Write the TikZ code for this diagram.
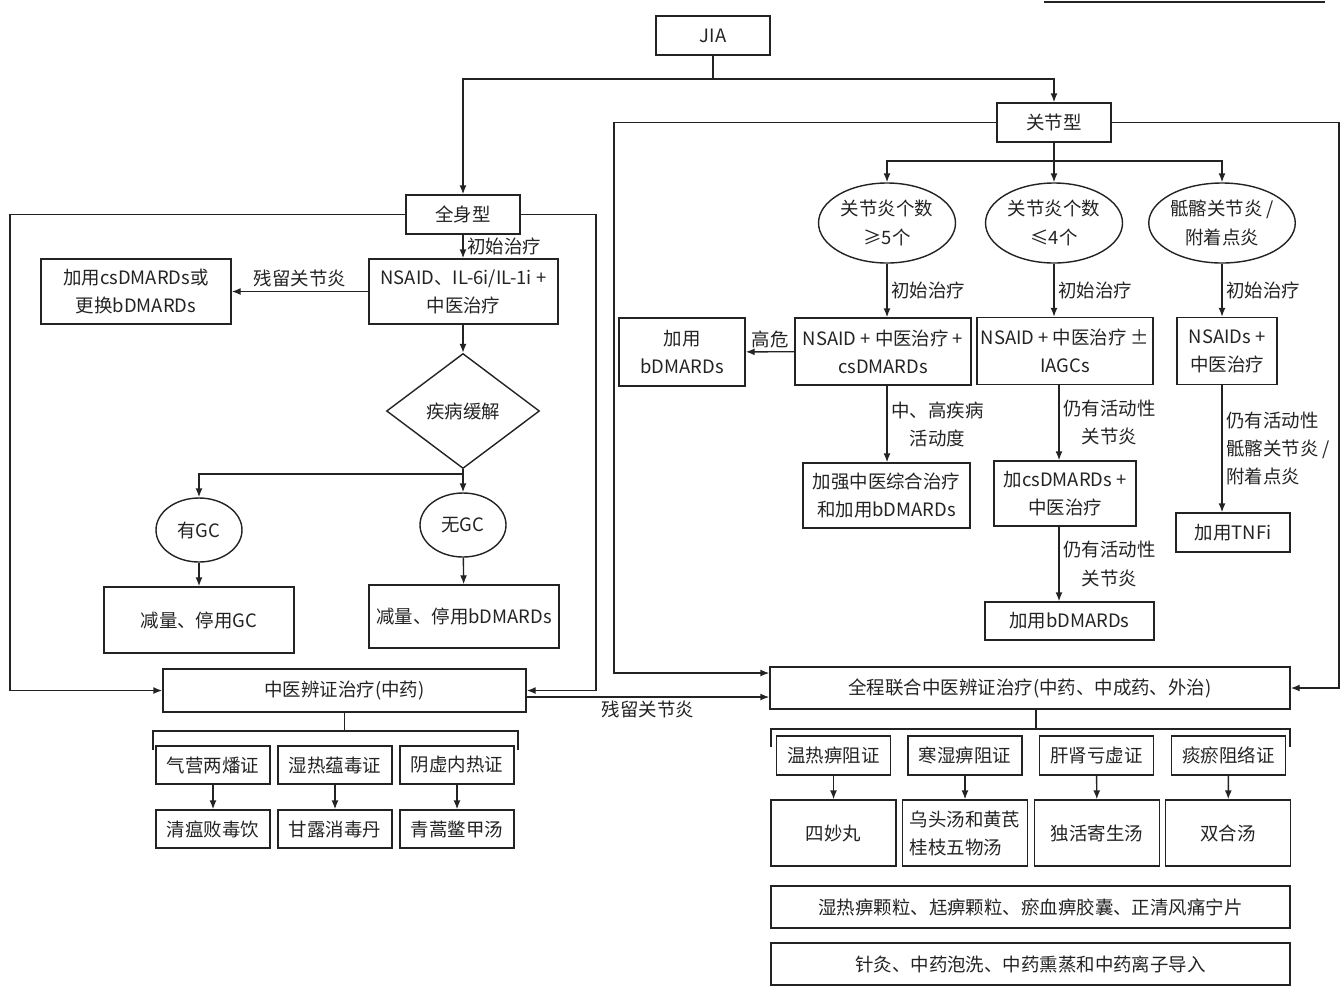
\documentclass[tikz,border=0pt]{standalone}
\usepackage{fontspec}
\setmainfont{Noto Sans CJK SC}
\usepackage{tikz}
\usetikzlibrary{arrows.meta,positioning,calc,shapes.geometric}
\definecolor{encre}{RGB}{35,35,35}
\tikzset{
  taille/.style 2 args={minimum width=#1*0.02cm, minimum height=#2*0.02cm},
  bloc/.style={rectangle, draw=encre, line width=0.8pt, align=center, inner sep=1pt,
               text=encre, font=\fontsize{10.5}{16}\selectfont},
  ovale/.style={ellipse, draw=encre, line width=0.8pt, align=center, inner sep=0pt,
                text=encre, font=\fontsize{10.5}{16}\selectfont},
  losange/.style={diamond, draw=encre, line width=0.8pt, inner sep=0pt,
                  text=encre, font=\fontsize{10.5}{16}\selectfont},
  arr/.style={-{Latex[length=1.8mm,width=1.4mm]}, line width=0.8pt, draw=encre},
  fil/.style={line width=0.8pt, draw=encre},
  etiq/.style={align=center, inner sep=2pt, text=encre, font=\fontsize{10.5}{16}\selectfont},
}

\begin{document}
\begin{tikzpicture}[x=0.02cm, y=-0.02cm]
  \useasboundingbox (0,0) rectangle (1344,991);
  \draw[fil] (1044,2) -- (1325,2);
  % tronc commun
  \node[bloc, taille={114}{39}] (jia) at (713,35.5) {JIA};
  \node[bloc, taille={114}{39}] (gxx) at (1054,122.5) {关节型};
  \node[bloc, taille={114}{39}] (qsx) at (463,214.5) {全身型};
  \coordinate (s0) at (713,79);
  \draw[fil] (jia) -- (s0);
  \draw[arr] (s0) -| (qsx); \draw[arr] (s0) -| (gxx);

  % branche articulaire
  \node[ovale, taille={137}{80}] (e1) at (887,223) {关节炎个数\\≥5个};
  \node[ovale, taille={137}{80}] (e2) at (1054,223) {关节炎个数\\≤4个};
  \node[ovale, taille={137}{80}] (e3) at (1222,223) {骶髂关节炎 /\\附着点炎};
  \coordinate (s1) at (1054,161);
  \draw[fil] (gxx) -- (s1);
  \draw[arr] (s1) -| (e1); \draw[arr] (s1) -- (e2); \draw[arr] (s1) -| (e3);

  \node[bloc, taille={176}{67}] (b1) at (883,351.5) {NSAID + 中医治疗 +\\csDMARDs};
  \node[bloc, taille={176}{67}] (b2) at (1065,351) {NSAID + 中医治疗 ±\\IAGCs};
  \node[bloc, taille={100}{67}] (b3) at (1227,351) {NSAIDs +\\中医治疗};
  \node[bloc, taille={126}{68}] (b0) at (682,352) {加用\\bDMARDs};
  \draw[arr] (e1) -- node[etiq, right]{初始治疗} (e1 |- b1.north);
  \draw[arr] (e2) -- node[etiq, right]{初始治疗} (e2 |- b2.north);
  \draw[arr] (e3) -- node[etiq, right]{初始治疗} (e3 |- b3.north);
  \draw[arr] (b1) -- node[etiq, above]{高危} (b0);

  \coordinate (v2) at (1059,0);
  \node[bloc, taille={167}{65}] (c1) at (886.5,495.5) {加强中医综合治疗\\和加用bDMARDs};
  \node[bloc, taille={142}{65}] (c2) at (1065,493.5) {加csDMARDs +\\中医治疗};
  \node[bloc, taille={169}{38}] (d2) at (1069.5,621) {加用bDMARDs};
  \node[bloc, taille={114}{39}] (c3) at (1233,532.5) {加用TNFi};
  \draw[arr] (e1 |- b1.south) -- node[etiq, right]{中、高疾病\\活动度} (e1 |- c1.north);
  \draw[arr] (v2 |- b2.south) -- node[etiq, right]{仍有活动性\\关节炎} (v2 |- c2.north);
  \draw[arr] (v2 |- c2.south) -- node[etiq, right]{仍有活动性\\关节炎} (v2 |- d2.north);
  \draw[arr] (e3 |- b3.south) -- node[etiq, right, align=left]{仍有活动性\\骶髂关节炎 /\\附着点炎} (e3 |- c3.north);

  % branche systemique
  \node[bloc, taille={189}{65}] (n1) at (463.5,291.5) {NSAID、IL-6i/IL-1i +\\中医治疗};
  \node[bloc, taille={190}{65}] (n0) at (136,291.5) {加用csDMARDs或\\更换bDMARDs};
  \draw[arr] (qsx) -- node[etiq, right]{初始治疗} (qsx |- n1.north);
  \draw[arr] (n1) -- node[etiq, above]{残留关节炎} (n0);
  \node[losange, taille={153}{115}] (dz) at (463,411) {疾病缓解};
  \draw[arr] (qsx |- n1.south) -- (dz);
  \coordinate (s2) at (463,474);
  \draw[fil] (dz) -- (s2);
  \node[ovale, taille={86}{64}] (yg) at (199,530) {有GC};
  \node[ovale, taille={86}{64}] (wg) at (463,525) {无GC};
  \draw[arr] (s2) -| (yg); \draw[arr] (s2) -- (wg);
  \node[bloc, taille={190}{66}] (r1) at (199,620) {减量、停用GC};
  \node[bloc, taille={190}{63}] (r2) at (464,616.5) {减量、停用bDMARDs};
  \draw[arr] (yg) -- (r1); \draw[arr] (wg) -- (r2);

  % traitement TCM systemique
  \node[bloc, taille={363}{43}] (zy) at (344.5,690.5) {中医辨证治疗(中药)};
  \coordinate (g0) at (10,0);
  \coordinate (g1) at (596,0);
  \draw[arr] (qsx.west) -| (g0 |- zy.west) -- (zy.west);
  \draw[arr] (qsx.east) -| (g1 |- zy.east) -- (zy.east);
  \coordinate (ag) at (153,731);
  \coordinate (ad) at (518,731);
  \draw[fil] (zy.south) -- (zy.south |- ag);
  \draw[fil] ([yshift=-0.38cm]ag) -- (ag) -- (ad) -- ([yshift=-0.38cm]ad);
  \node[bloc, taille={114}{38}] (x1) at (213,765) {气营两燔证};
  \node[bloc, taille={114}{38}] (x2) at (335,765) {湿热蕴毒证};
  \node[bloc, taille={114}{38}] (x3) at (457,765) {阴虚内热证};
  \node[bloc, taille={114}{38}] (y1) at (213,829) {清瘟败毒饮};
  \node[bloc, taille={114}{38}] (y2) at (335,829) {甘露消毒丹};
  \node[bloc, taille={114}{38}] (y3) at (457,829) {青蒿鳖甲汤};
  \draw[arr] (x1) -- (y1); \draw[arr] (x2) -- (y2); \draw[arr] (x3) -- (y3);

  % traitement TCM articulaire
  \node[bloc, taille={520}{42}] (qc) at (1030,688) {全程联合中医辨证治疗(中药、中成药、外治)};
  \coordinate (g2) at (614,0);
  \coordinate (g3) at (1339,0);
  \coordinate (q1) at ([yshift=0.3cm]qc.west);
  \coordinate (q2) at ([yshift=-0.18cm]qc.west);
  \draw[arr] (gxx.west) -| (g2 |- q1) -- (q1);
  \draw[arr] (gxx.east) -| (g3 |- qc.east) -- (qc.east);
  \draw[arr] (zy.east |- q2) -- node[etiq, below]{残留关节炎} (q2);
  \coordinate (tq) at (1036,729);
  \coordinate (bg) at (771,729);
  \coordinate (bd) at (1290,729);
  \draw[fil] (tq |- qc.south) -- (tq);
  \draw[fil] ([yshift=-0.36cm]bg) -- (bg) -- (bd) -- ([yshift=-0.36cm]bd);
  \node[bloc, taille={114}{39}] (p1) at (833.5,755.5) {温热痹阻证};
  \node[bloc, taille={114}{39}] (p2) at (965,755.5) {寒湿痹阻证};
  \node[bloc, taille={114}{39}] (p3) at (1096.5,755.5) {肝肾亏虚证};
  \node[bloc, taille={114}{39}] (p4) at (1228.5,755.5) {痰瘀阻络证};
  \node[bloc, taille={125}{66}] (m1) at (833.5,833) {四妙丸};
  \node[bloc, taille={125}{66}, align=left] (m2) at (965,833) {乌头汤和黄芪\\桂枝五物汤};
  \node[bloc, taille={125}{66}] (m3) at (1097,833) {独活寄生汤};
  \node[bloc, taille={125}{66}] (m4) at (1228,833) {双合汤};
  \draw[arr] (p1) -- (m1); \draw[arr] (p2) -- (m2);
  \draw[arr] (p3) -- (m3); \draw[arr] (p4) -- (m4);
  \node[bloc, taille={519}{42}] (k1) at (1030.5,907) {湿热痹颗粒、尪痹颗粒、瘀血痹胶囊、正清风痛宁片};
  \node[bloc, taille={519}{42}] (k2) at (1030.5,964) {针灸、中药泡洗、中药熏蒸和中药离子导入};
\end{tikzpicture}
\end{document}
